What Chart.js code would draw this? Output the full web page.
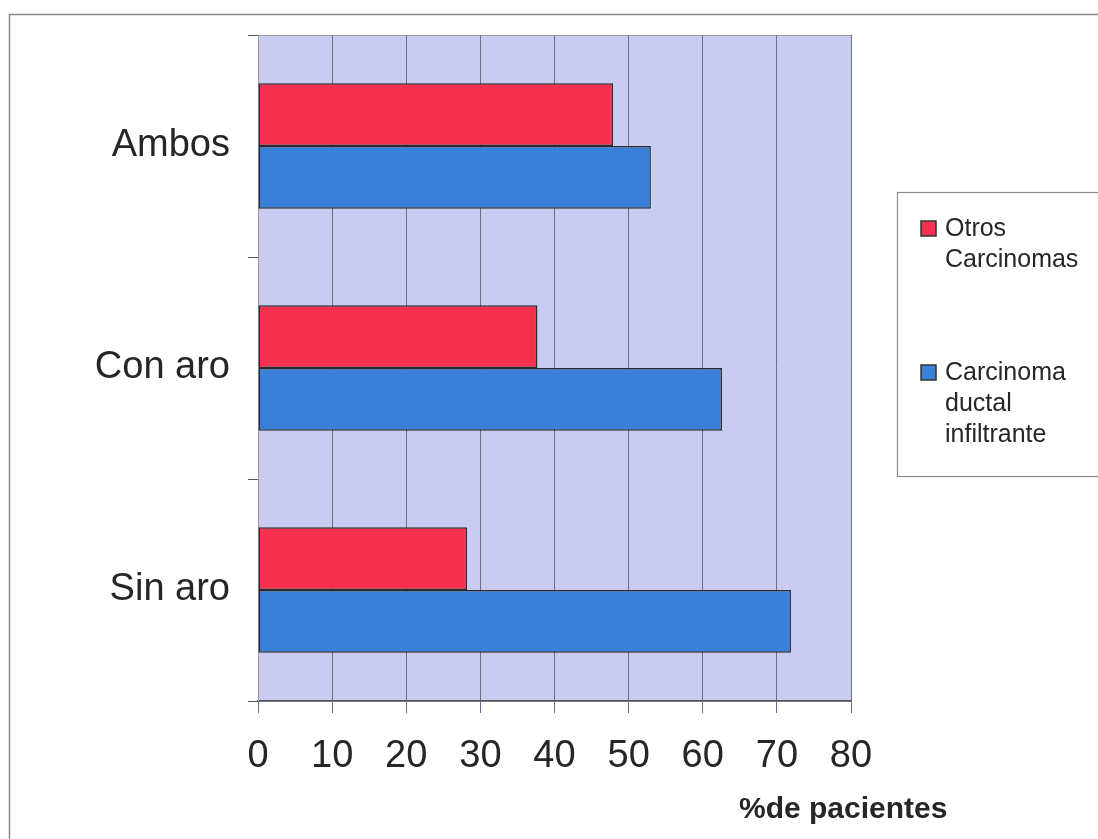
<!DOCTYPE html>
<html>
<head>
<meta charset="utf-8">
<script src="https://cdn.jsdelivr.net/npm/chart.js@4/dist/chart.umd.min.js"></script>
<style>
  html, body { margin: 0; padding: 0; background: #fff; }
  #wrap { width: 1098px; height: 839px; position: relative; }
</style>
</head>
<body>
<div id="wrap"><canvas id="barChart"></canvas></div>
<script>
// Data
const categories = ['Ambos', 'Con aro', 'Sin aro'];
const otrosCarcinomas = [47.9, 37.7, 28.2];
const carcinomaDuctal = [53.0, 62.6, 71.9];
const seriesNames = ['Otros Carcinomas', 'Carcinoma ductal infiltrante'];
const legendLines = [['Otros', 'Carcinomas'], ['Carcinoma', 'ductal', 'infiltrante']];
const axisTitle = '%de pacientes';

const FONT = '"Liberation Sans", Arial, sans-serif';
const RED = '#f8304f';
const BLUE = '#3a7fd8';
const PLOT_BG = '#c9ccf0';
const GRID = '#6f6f84';

// background, frame, legend box and axis title
const decorPlugin = {
    id: 'decor',
    beforeDraw(chart) {
        const ctx = chart.ctx;
        const a = chart.chartArea;
        ctx.save();
        ctx.fillStyle = '#fff';
        ctx.fillRect(0, 0, chart.width, chart.height);
        // outer frame
        ctx.strokeStyle = '#8a8a8a';
        ctx.lineWidth = 1.5;
        ctx.strokeRect(9.5, 14.5, 1200, 1000);
        // plot area
        ctx.fillStyle = PLOT_BG;
        ctx.fillRect(a.left, a.top, a.right - a.left, a.bottom - a.top);
        ctx.strokeStyle = '#9a9aaa';
        ctx.lineWidth = 1;
        ctx.strokeRect(a.left + 0.5, a.top + 0.5, a.right - a.left, a.bottom - a.top);
        ctx.restore();
    },
    afterDraw(chart) {
        const ctx = chart.ctx;
        ctx.save();
        // legend box
        ctx.strokeStyle = '#8a8a8a';
        ctx.lineWidth = 1.2;
        ctx.strokeRect(897.5, 192.5, 240, 284);
        const colors = [RED, BLUE];
        const baselines = [236, 380];
        ctx.font = '25px ' + FONT;
        ctx.textBaseline = 'alphabetic';
        ctx.textAlign = 'left';
        legendLines.forEach((lines, i) => {
            const b = baselines[i];
            ctx.fillStyle = colors[i];
            ctx.fillRect(921, b - 15, 15, 15);
            ctx.strokeStyle = '#333';
            ctx.lineWidth = 1.5;
            ctx.strokeRect(921, b - 15, 15, 15);
            ctx.fillStyle = '#262626';
            lines.forEach((t, j) => ctx.fillText(t, 945, b + j * 31));
        });
        // axis title
        ctx.font = 'bold 30px ' + FONT;
        ctx.fillStyle = '#262626';
        ctx.fillText(axisTitle, 739, 818);
        ctx.restore();
    }
};

const barCtx = document.getElementById('barChart').getContext('2d');
const barChart = new Chart(barCtx, {
    type: 'bar',
    data: {
        labels: categories,
        datasets: [{
            label: seriesNames[0],
            data: otrosCarcinomas,
            backgroundColor: RED,
            borderColor: '#2a2a2a',
            borderWidth: 1.5,
            borderSkipped: false
        }, {
            label: seriesNames[1],
            data: carcinomaDuctal,
            backgroundColor: BLUE,
            borderColor: '#2a2a2a',
            borderWidth: 1.5,
            borderSkipped: false
        }]
    },
    options: {
        indexAxis: 'y',
        responsive: true,
        maintainAspectRatio: false,
        animation: false,
        categoryPercentage: 0.565,
        barPercentage: 1.0,
        layout: {
            padding: { left: 0, top: 35, right: 247, bottom: 0 }
        },
        plugins: {
            legend: { display: false },
            tooltip: { enabled: false }
        },
        scales: {
            x: {
                min: 0,
                max: 80,
                ticks: {
                    stepSize: 10,
                    color: '#262626',
                    padding: 21,
                    font: { family: FONT, size: 38 }
                },
                grid: {
                    color: GRID,
                    lineWidth: 1,
                    tickLength: 12,
                    tickColor: GRID
                },
                border: { color: '#555', width: 1.5 },
                afterFit(scale) {
                    scale.height = 138;
                    scale.paddingLeft = 0;
                    scale.paddingRight = 0;
                }
            },
            y: {
                ticks: {
                    color: '#262626',
                    padding: 18,
                    font: { family: FONT, size: 38 }
                },
                grid: {
                    drawOnChartArea: false,
                    tickLength: 10,
                    tickColor: '#555',
                    offset: true
                },
                border: { color: '#9a9aaa', width: 1 },
                afterFit(scale) {
                    scale.width = 258;
                    scale.paddingTop = 0;
                    scale.paddingBottom = 0;
                }
            }
        }
    },
    plugins: [decorPlugin]
});
</script>
</body>
</html>
